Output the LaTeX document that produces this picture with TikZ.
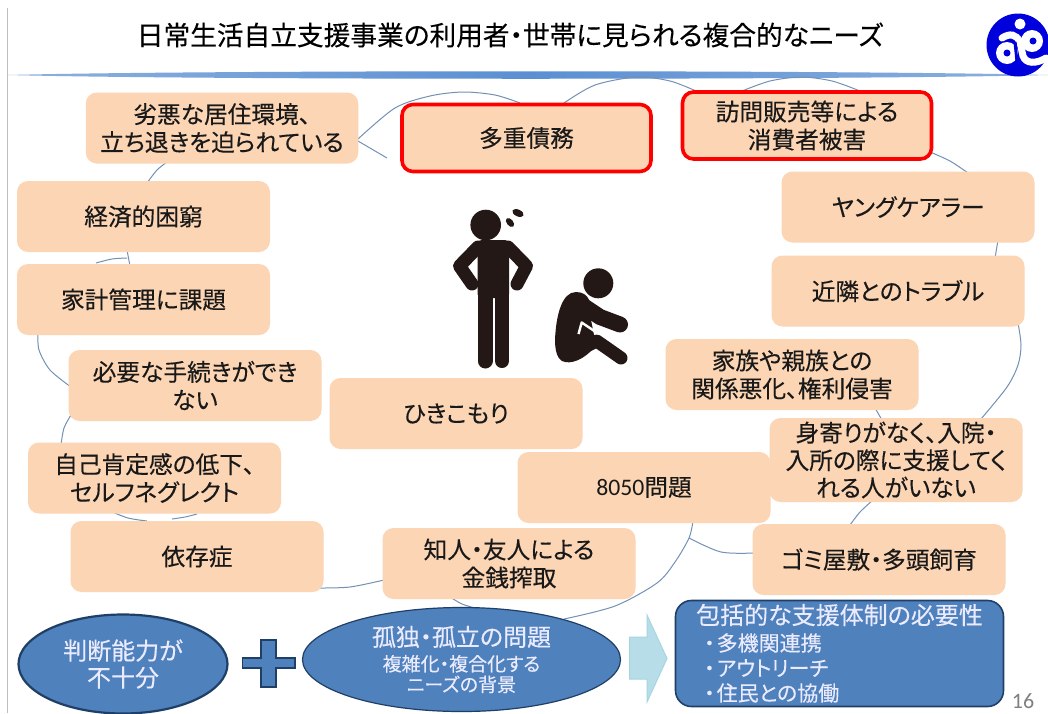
\documentclass[tikz,border=0pt]{standalone}
\usepackage{fontspec}
\setmainfont{Noto Sans CJK JP}[RawFeature={+palt},FakeBold=0.25]
\newfontfamily\lat{Carlito}
\usetikzlibrary{shapes.geometric,shapes.arrows}
\definecolor{peach}{HTML}{FCD5B5}
\definecolor{cloudline}{HTML}{7391B5}
\definecolor{bluefill}{HTML}{4F81BD}
\definecolor{blueedge}{HTML}{1F3F66}
\definecolor{figblack}{HTML}{231815}
\definecolor{logoblue}{HTML}{0000DC}
\definecolor{rulegrad}{HTML}{5B8FD2}
\definecolor{arrowfill}{HTML}{B7DEE8}
\definecolor{arrowedge}{HTML}{A5D5E2}
\pgfdeclarehorizontalshading{headerrule}{100bp}{
 color(0bp)=(white);
 color(8bp)=(rulegrad!35!white);
 color(25bp)=(rulegrad!70!white);
 color(50bp)=(rulegrad);
 color(75bp)=(rulegrad!70!white);
 color(92bp)=(rulegrad!35!white);
 color(100bp)=(white)}
\tikzset{
 peachbox/.style={rectangle,rounded corners=11pt,fill=peach,minimum width=253pt,minimum height=71pt,inner sep=0pt,align=center,text=black!90,font=\fontsize{23.7}{28}\selectfont},
 redbox/.style={peachbox,draw=red,line width=3.6pt,minimum width=249pt,minimum height=67pt},
 cloudarc/.style={draw=cloudline,line width=1pt},
 blueoval/.style={ellipse,fill=bluefill,draw=blueedge,inner sep=0pt,align=center,text=white!92!blue},
 listline/.style={anchor=west,inner sep=0pt,text=white!92!blue,font=\fontsize{21}{24}\selectfont},
}
\begin{document}
\begin{tikzpicture}[x=1pt,y=-1pt]
\useasboundingbox (0,0) rectangle (1048,713);
\fill[white] (0,0) rectangle (1048,713);
% slide frame and header rule
\draw[black!25,line width=1pt] (7.5,8) -- (7.5,713);
\shade[shading=headerrule]
  (8,75) .. controls (200,70) and (850,70) .. (1048,75) .. controls (850,80) and (200,80) .. (8,75) -- cycle;
\node[inner sep=0pt,font=\fontsize{26.7}{30}\selectfont,text=black] (title) at (510,35) {日常生活自立支援事業の利用者・世帯に見られる複合的なニーズ};
% logo
\begin{scope}
\clip (960,0) rectangle (1048,90);
\fill[logoblue] (1018,45) circle (31.5);
\fill[white] (1020,24) circle (5.5);
\draw[white,line width=7pt,line cap=round] (1002,38) .. controls (1010,33) and (1016,34) .. (1020,42) -- (1023,56) .. controls (1026,64) and (1036,64) .. (1046,58);
\fill[white] (1007,53) circle (11);
\fill[logoblue] (1007,53) circle (3.5);
\fill[white] (1032,41) circle (11);
\fill[logoblue] (1033,41) circle (3.5);
\draw[logoblue,line width=3pt] (1015,42) -- (1017,62);
\end{scope}
% cloud outline pieces, behind the boxes
\draw[cloudarc] plot[smooth] coordinates {(358,139) (395,108) (430,96) (463,92) (495,95) (520,103)};
\draw[cloudarc] (358,141) -- (387,158);
\draw[cloudarc] plot[smooth] coordinates {(564,103) (595,85) (637,77) (670,81) (696,91)};
\draw[cloudarc] plot[smooth] coordinates {(742,91) (770,81) (801,77) (832,81) (860,91)};
\draw[cloudarc] plot[smooth] coordinates {(930,152) (950,161) (968,173)};
\draw[cloudarc] (998,240) -- (995,258);
\draw[cloudarc] plot[smooth] coordinates {(1018,323) (1021,345) (1018,365) (1007,387) (981,419)};
\draw[cloudarc] (875,408) -- (882,420);
\draw[cloudarc] plot[smooth] coordinates {(873,500) (860,512) (850,525)};
\draw[cloudarc] plot[smooth] coordinates {(755,553) (721,552) (689,538)};
\draw[cloudarc] plot[smooth] coordinates {(693,521) (689,538) (675,562) (657,583) (615,606) (564,619)};
\draw[cloudarc] plot[smooth] coordinates {(450,597) (462,604) (475,608)};
\draw[cloudarc] plot[smooth] coordinates {(320,588) (350,587) (384,580)};
\draw[cloudarc] plot[smooth] coordinates {(110,511) (128,518) (147,521)};
\draw[cloudarc] plot[smooth] coordinates {(172,519) (185,517) (197,514)};
\draw[cloudarc] plot[smooth] coordinates {(71,415) (64,428) (61,445)};
\draw[cloudarc] plot[smooth] coordinates {(38,333) (39,350) (50,370) (71,387)};
\draw[cloudarc] (127,250) -- (130,266);
\draw[cloudarc] plot[smooth] coordinates {(127,258) (112,259) (96,263)};
\draw[cloudarc] plot[smooth] coordinates {(167,162) (157,170) (147,183)};
% peach boxes
\node[peachbox,minimum width=272.5pt] (rekka) at (222,128) {劣悪な居住環境、\\立ち退きを迫られている};
\node[redbox] (tajuu) at (526.5,138) {多重債務};
\node[redbox] (houmon) at (807,125.5) {訪問販売等による\\消費者被害};
\node[peachbox] (young) at (908,207) {ヤングケアラー};
\node[peachbox] (kinrin) at (898,291) {近隣とのトラブル};
\node[peachbox] (kazoku) at (792,374.5) {家族や親族との\\関係悪化、権利侵害};
\node[peachbox,minimum height=84pt,font=\fontsize{23.7}{27.5}\selectfont] (miyori) at (896,460) {身寄りがなく、入院・\\入所の際に支援してく\\れる人がいない};
\node[peachbox] (gomi) at (879,559.5) {ゴミ屋敷・多頭飼育};
\node[peachbox] (hachi) at (644,487.5) {{\lat 8050}問題};
\node[peachbox] (hiki) at (456,413.5) {ひきこもり};
\node[peachbox] (chijin) at (509,563.5) {知人・友人による\\金銭搾取};
\node[peachbox] (keizai) at (143.5,216.5) {経済的困窮};
\node[peachbox] (kakei) at (143.5,299.5) {家計管理に課題};
\node[peachbox] (hitsuyou) at (195,385.5) {必要な手続きができ\\ない};
\node[peachbox] (jiko) at (154.5,478) {自己肯定感の低下、\\セルフネグレクト};
\node[peachbox] (izon) at (197,556.5) {依存症};
% bottom row
\node[blueoval,line width=2.2pt,minimum width=209pt,minimum height=99pt,font=\fontsize{24}{27}\selectfont] (handan) at (123,664) {判断能力が\\不十分};
\path[fill=bluefill,draw=blueedge,line width=1.6pt] (261,640) -- (276,640) -- (276,658) -- (295,658) -- (295,668) -- (276,668) -- (276,687) -- (261,687) -- (261,668) -- (242.5,668) -- (242.5,658) -- (261,658) -- cycle;
\node[blueoval,line width=1.2pt,minimum width=318pt,minimum height=104pt] (koritsu) at (461.5,659.5) {{\fontsize{24}{27}\selectfont 孤独・孤立の問題}\\[6pt]{\fontsize{19}{22}\selectfont 複雑化・複合化する}\\[2pt]{\fontsize{19}{22}\selectfont ニーズの背景}};
\path[fill=arrowfill,draw=arrowedge,line width=1pt] (629.5,637) -- (647,637) -- (647,615) -- (667,658.5) -- (647,702) -- (647,679) -- (629.5,679) -- cycle;
\node[rectangle,rounded corners=16pt,fill=bluefill,draw=blueedge,line width=1.6pt,minimum width=328pt,minimum height=106pt,inner sep=0pt] (houkatsu) at (839.5,653.5) {};
\node[inner sep=0pt,text=white!92!blue,font=\fontsize{24}{28}\selectfont] (houkatsuT) at (839.5,615) {包括的な支援体制の必要性};
\node[listline] (l1) at (704,643) {・\kern2pt 多機関連携};
\node[listline] (l2) at (704,668) {・\kern2pt アウトリーチ};
\node[listline] (l3) at (704,693) {・\kern2pt 住民との協働};
\node[inner sep=0pt,text=black!50,font=\lat\fontsize{22}{24}\selectfont] (pagenum) at (1023,701.5) {16};
% figures
\begin{scope}[figblack]
\fill (485.7,225) circle (15.3);
\fill[rotate around={-25:(518,213)}] (518,213) ellipse (6 and 3.4);
\fill[rotate around={-50:(510,222.5)}] (510,222.5) ellipse (5.2 and 3.2);
\fill[rounded corners=4pt] (477.5,298) -- (477.5,240) -- (509,240) -- (509,298) -- cycle;
\draw[line width=13pt,line cap=round,line join=round] (478,247) -- (459.5,266) -- (472,284);
\draw[line width=13pt,line cap=round,line join=round] (508,247) -- (526.5,266) -- (517,284);
\draw[line width=15pt,line cap=round] (485,292) -- (485,361);
\draw[line width=14pt,line cap=round] (502,292) -- (502,361);
\fill (598.3,283.3) circle (15);
\draw[line width=16pt,line cap=round,line join=round] (576,301) -- (600,317) -- (620,324.5);
\fill (555,340) .. controls (556,315) and (562,292) .. (576,292) .. controls (590,292) and (592,305) .. (590,315) -- (596,345) .. controls (585,360) and (570,365) .. (562,361) .. controls (557,358) and (555,350) .. (555,340) -- cycle;
\draw[line width=13pt,line cap=round,line join=round] (568,355) -- (596.7,341) -- (621,358);
\draw[white,line width=2.4pt,line join=round] (578.5,334) -- (581.7,322.5) -- (598,333.5) -- (628,335);
\end{scope}
\end{tikzpicture}
\end{document}
